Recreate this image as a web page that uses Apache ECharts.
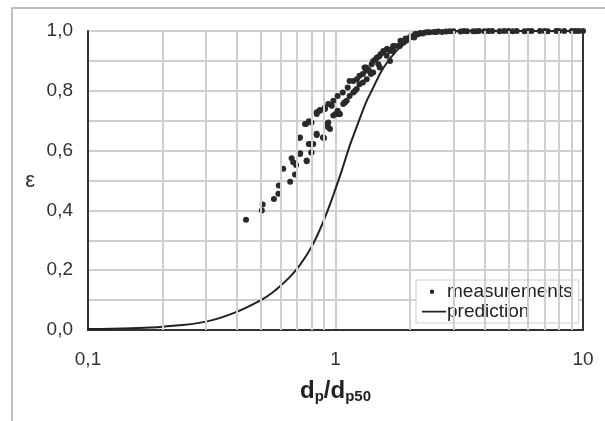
<!DOCTYPE html>
<html>
<head>
<meta charset="utf-8">
<script src="https://cdn.jsdelivr.net/npm/echarts@6/dist/echarts.min.js"></script>
<style>
  html, body { margin: 0; padding: 0; background: #fff; }
  #chart { width: 605px; height: 421px; }
</style>
</head>
<body>
<div id="chart"></div>
<script>
var measX = [0.435, 0.504, 0.508, 0.564, 0.588, 0.59, 0.615, 0.656, 0.686, 0.693,
  0.665, 0.72, 0.765, 0.798, 0.713, 0.78, 0.80, 0.84, 0.898, 0.76,
  0.80, 0.92, 0.935, 0.78, 0.84, 0.865, 0.905, 0.935, 0.98, 1.0,
  1.02, 0.95, 1.02, 1.07, 1.12, 1.09, 1.14, 1.18, 1.22, 1.25,
  1.29, 1.33, 1.31, 1.40, 1.42, 1.47, 1.52, 1.56, 1.61, 1.69,
  1.71, 1.83, 1.88, 1.97, 2.06, 2.16, 0.765, 0.80, 0.89, 0.84,
  1.18, 1.39, 1.66, 1.02, 1.14, 1.33, 1.56, 1.83, 2.13, 1.25,
  1.45, 1.75, 1.92, 2.0, 2.1, 2.2, 2.3, 2.4, 2.5, 2.6,
  2.7, 2.8, 3.0, 3.2, 3.4, 3.6, 3.8, 4.0, 4.3, 4.6,
  5.0, 5.4, 5.8, 6.2, 6.7, 7.2, 7.8, 8.4, 9.0, 9.6,
  1.36, 1.5, 1.62, 1.9, 2.25,
  0.675, 0.719, 0.789, 0.813, 0.719, 0.839, 0.893, 0.753, 0.935, 0.865,
  0.907, 0.965, 0.98, 1.04, 1.075, 1.11, 1.218, 1.337, 1.42, 1.51,
  1.66, 1.82, 1.93, 2.08, 0.921, 1.04, 1.09, 1.20, 1.29, 1.39,
  1.49, 1.61, 1.71, 2.35, 2.55, 2.9, 3.3, 3.7, 4.15, 4.8,
  5.2, 6.0, 7.0, 8.0, 9.3, 10.0];
var measY = [0.369, 0.40, 0.42, 0.438, 0.456, 0.483, 0.539, 0.496, 0.52, 0.552,
  0.574, 0.591, 0.564, 0.594, 0.642, 0.622, 0.62, 0.652, 0.642, 0.689,
  0.694, 0.683, 0.694, 0.698, 0.728, 0.736, 0.744, 0.756, 0.767, 0.722,
  0.733, 0.672, 0.783, 0.794, 0.811, 0.761, 0.783, 0.833, 0.839, 0.822,
  0.856, 0.867, 0.878, 0.889, 0.90, 0.911, 0.922, 0.928, 0.939, 0.939,
  0.95, 0.956, 0.961, 0.972, 0.983, 0.989, 0.567, 0.594, 0.644, 0.722,
  0.794, 0.861, 0.933, 0.722, 0.833, 0.878, 0.933, 0.967, 0.989, 0.85,
  0.905, 0.95, 0.975, 0.98, 0.99, 0.993, 0.995, 0.996, 0.997, 0.998,
  0.997, 0.998, 0.999, 0.998, 0.999, 0.999, 1.0, 0.999, 1.0, 0.999,
  1.0, 1.0, 0.999, 1.0, 1.0, 0.999, 1.0, 1.0, 1.0, 1.0,
  0.87, 0.915, 0.94, 0.968, 0.992,
  0.561, 0.589, 0.622, 0.622, 0.644, 0.656, 0.644, 0.689, 0.678, 0.733,
  0.739, 0.75, 0.717, 0.722, 0.756, 0.767, 0.806, 0.839, 0.861, 0.878,
  0.90, 0.95, 0.967, 0.978, 0.689, 0.722, 0.761, 0.80, 0.828, 0.856,
  0.889, 0.917, 0.933, 0.996, 0.997, 0.999, 1.0, 0.999, 1.0, 1.0,
  0.999, 1.0, 1.0, 1.0, 1.0, 1.0];

// model prediction
var predX = [0.1, 0.15, 0.2, 0.3, 0.4, 0.5, 0.55, 0.6, 0.65, 0.7, 0.75, 0.8, 0.85, 0.9, 0.95, 1.0,
  1.06, 1.14, 1.2, 1.33, 1.4, 1.56, 1.77, 2.0, 2.3, 2.7, 3.2, 5, 10];
var predY = [0.003, 0.006, 0.011, 0.028, 0.061, 0.10, 0.122, 0.148, 0.175, 0.205, 0.24, 0.278, 0.322, 0.37, 0.42, 0.472,
  0.533, 0.615, 0.665, 0.762, 0.80, 0.876, 0.935, 0.972, 0.993, 0.999, 1.0, 1.0, 1.0];

// minor decade grid lines on the log axis
var minorX = [0.2, 0.3, 0.4, 0.5, 0.6, 0.7, 0.8, 0.9, 2, 3, 4, 5, 6, 7, 8, 9];

var yTicks = ['0,0', '0,2', '0,4', '0,6', '0,8', '1,0'];

var meas = measX.map(function (x, i) { return [x, measY[i]]; });
var pred = predX.map(function (x, i) { return [x, predY[i]]; });

var chart = echarts.init(document.getElementById('chart'));

var gridColor = '#cfcfcf';
var frame = { show: true, lineStyle: { color: '#333', width: 2 } };

chart.setOption({
  backgroundColor: '#fff',
  animation: false,
  graphic: [{
    type: 'polyline',
    shape: { points: [[12, 421], [12, 8], [605, 8]] },
    style: { stroke: '#aaa', lineWidth: 1.5, fill: null }
  }],
  grid: { left: 88, right: 22, top: 31, bottom: 91 },
  xAxis: [{
    type: 'log', logBase: 10, min: 0.1, max: 10,
    name: '{b|d}{s|p}{b|/d}{s|p50}',
    nameLocation: 'middle', nameGap: 48,
    nameTextStyle: {
      rich: {
        b: { fontSize: 24, fontWeight: 'bold', color: '#222', fontFamily: 'Liberation Sans', lineHeight: 26 },
        s: { fontSize: 15, fontWeight: 'bold', color: '#222', fontFamily: 'Liberation Sans', lineHeight: 12, verticalAlign: 'bottom' }
      }
    },
    axisLine: frame,
    axisTick: { show: false },
    axisLabel: {
      margin: 20, fontSize: 19, color: '#333', fontFamily: 'Liberation Sans',
      formatter: function (v) { return String(v).replace('.', ','); }
    },
    splitLine: { show: true, lineStyle: { color: gridColor, width: 2 } }
  }, {
    type: 'log', logBase: 10, min: 0.1, max: 10, position: 'top',
    axisLine: frame, axisTick: { show: false }, axisLabel: { show: false }, splitLine: { show: false }
  }],
  yAxis: [{
    type: 'value', min: 0, max: 1, interval: 0.2,
    name: 'ε', nameLocation: 'middle', nameRotate: 0, nameGap: 53,
    nameTextStyle: { fontSize: 22, color: '#333', fontFamily: 'Liberation Sans', padding: [12, 0, 0, 0] },
    axisLine: frame,
    axisTick: { show: false },
    axisLabel: {
      margin: 15, fontSize: 19, color: '#333', fontFamily: 'Liberation Sans',
      formatter: function (v, i) { return yTicks[i]; }
    },
    splitLine: { show: true, lineStyle: { color: gridColor, width: 2 } },
    minorTick: { show: false, splitNumber: 2 },
    minorSplitLine: { show: true, lineStyle: { color: gridColor, width: 2 } }
  }, {
    type: 'value', min: 0, max: 1, position: 'right',
    axisLine: frame, axisTick: { show: false }, axisLabel: { show: false }, splitLine: { show: false }
  }],
  legend: {
    orient: 'vertical', left: 416, top: 280,
    backgroundColor: '#fff', borderColor: '#ccc', borderWidth: 1,
    padding: [2, 6, 2, 6], itemGap: 1, itemWidth: 24, itemHeight: 14,
    textStyle: { fontSize: 19, color: '#222', fontFamily: 'Liberation Sans', padding: [0, 0, 0, -4] },
    data: [
      { name: 'measurements', icon: 'path://M0,0 L0.01,0 Z M24,14 L24.01,14 Z M10,5 A2.2,2.2 0 1,1 10,9.4 A2.2,2.2 0 1,1 10,5 Z',
        itemStyle: { color: '#222', borderWidth: 0 } },
      { name: 'prediction', icon: 'path://M0,0 L0.01,0 Z M24,14 L24.01,14 Z M0,6.2 L24,6.2 L24,8 L0,8 Z',
        itemStyle: { color: '#222', borderWidth: 0 } }
    ]
  },
  series: [{
    name: 'grid',
    type: 'line', data: [], silent: true, z: 1,
    markLine: {
      silent: true, symbol: 'none', label: { show: false },
      lineStyle: { color: gridColor, width: 2, type: 'solid' },
      data: minorX.map(function (x) { return { xAxis: x }; })
    }
  }, {
    name: 'prediction',
    type: 'line', data: pred, smooth: 0.4, symbol: 'none', z: 3,
    lineStyle: { color: '#222', width: 2 },
    itemStyle: { color: '#222' }
  }, {
    name: 'measurements',
    type: 'scatter', data: meas, symbolSize: 6, z: 4,
    itemStyle: { color: '#2a2a2a', opacity: 1 }
  }]
});
</script>
</body>
</html>
